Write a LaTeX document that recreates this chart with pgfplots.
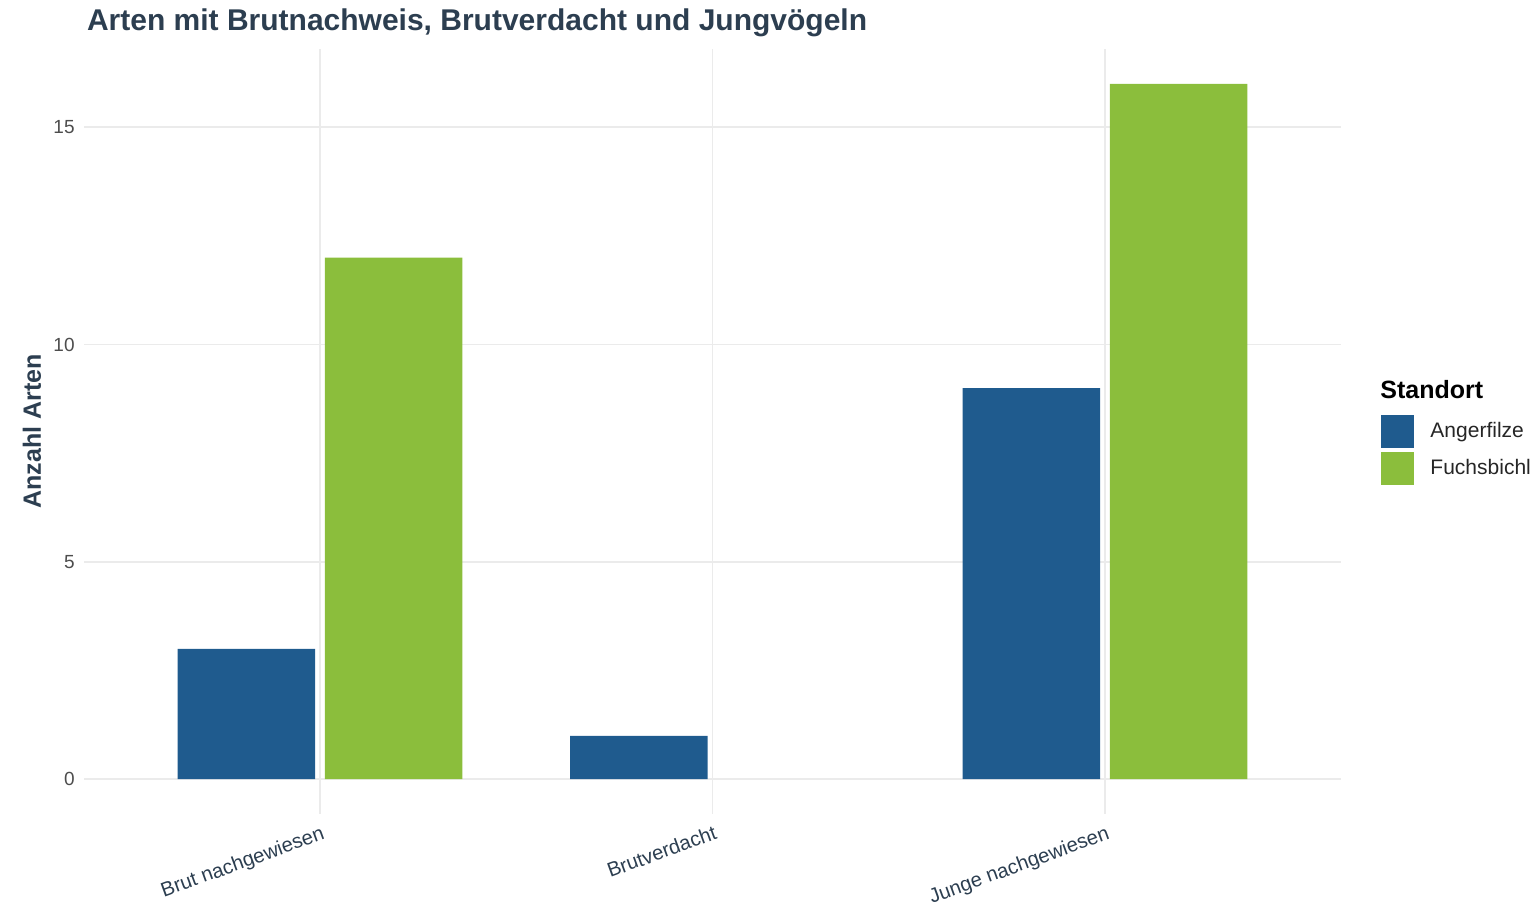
\documentclass[border=0pt]{standalone}
\usepackage{pgfplots}
\pgfplotsset{compat=1.18}
\usepackage{fontspec}
\setmainfont{Liberation Sans}
\definecolor{angerblue}{HTML}{1F5B8E}
\definecolor{fuchsgreen}{HTML}{8BBE3C}
\definecolor{titlecol}{HTML}{2C3E50}
\definecolor{gridcol}{HTML}{EBEBEB}
\definecolor{tickcol}{HTML}{4D4D4D}

\begin{document}
\begin{tikzpicture}
\useasboundingbox (-42.25pt,-46.5pt) rectangle (725.25pt,407pt);
\begin{axis}[
    scale only axis,
    width=628pt, height=382.5pt,
    clip=false,
    xmin=-0.6, xmax=2.6,
    ymin=-0.8, ymax=16.8,
    axis line style={draw=none},
    major tick length=0pt,
    xtick={0,1,2},
    xticklabels={Brut nachgewiesen, Brutverdacht, Junge nachgewiesen},
    ytick={0,5,10,15},
    grid=major,
    grid style={gridcol, line width=0.8pt},
    /pgf/number format/assume math mode=true,
    yticklabel style={font=\fontsize{9.5}{11}\selectfont, text=tickcol, inner sep=0pt, xshift=-4.75pt},
    xticklabel style={font=\fontsize{10.1}{12}\selectfont, text=titlecol, rotate=20, anchor=north east, inner sep=0pt, xshift=-1.5pt, yshift=-5pt},
    ylabel={Anzahl Arten},
    ylabel style={font=\bfseries\fontsize{12.5}{14}\selectfont, text=titlecol, at={(axis description cs:-0.0418,0.5)}, anchor=center, rotate=0},
    every axis title shift=0pt,
    title={Arten mit Brutnachweis, Brutverdacht und Jungvögeln},
    title style={font=\bfseries\fontsize{15}{18}\selectfont, text=titlecol, anchor=base west, at={(axis description cs:-0.0036,1.0248)}},
    legend style={draw=none, fill=none, inner sep=0pt, at={(axis description cs:1.0323,0.5216)}, anchor=north west,
        font=\fontsize{10.5}{12}\selectfont, text=black!85, row sep=2pt,
        nodes={inner sep=0pt},
        /tikz/every odd column/.append style={column sep=8pt}},
    legend cell align=left,
]
\addplot[ybar, bar width=0.35, bar shift=-0.1875, fill=angerblue, draw=none,
    legend image code/.code={\fill[angerblue] (0pt,-8.25pt) rectangle (16.5pt,8.25pt);}]
    coordinates {(0,3) (1,1) (2,9)};
\addlegendentry{Angerfilze}
% Brutverdacht: Fuchsbichl has no value
\addplot[ybar, bar width=0.35, bar shift=0.1875, fill=fuchsgreen, draw=none,
    legend image code/.code={\fill[fuchsgreen] (0pt,-8.25pt) rectangle (16.5pt,8.25pt);}]
    coordinates {(0,12) (2,16)};
\addlegendentry{Fuchsbichl}
\node[anchor=base west, font=\bfseries\fontsize{12.5}{14}\selectfont, inner sep=0pt]
    at ([xshift=647.75pt, yshift=208pt]rel axis cs:0,0) {Standort};
\end{axis}
\end{tikzpicture}
\end{document}
